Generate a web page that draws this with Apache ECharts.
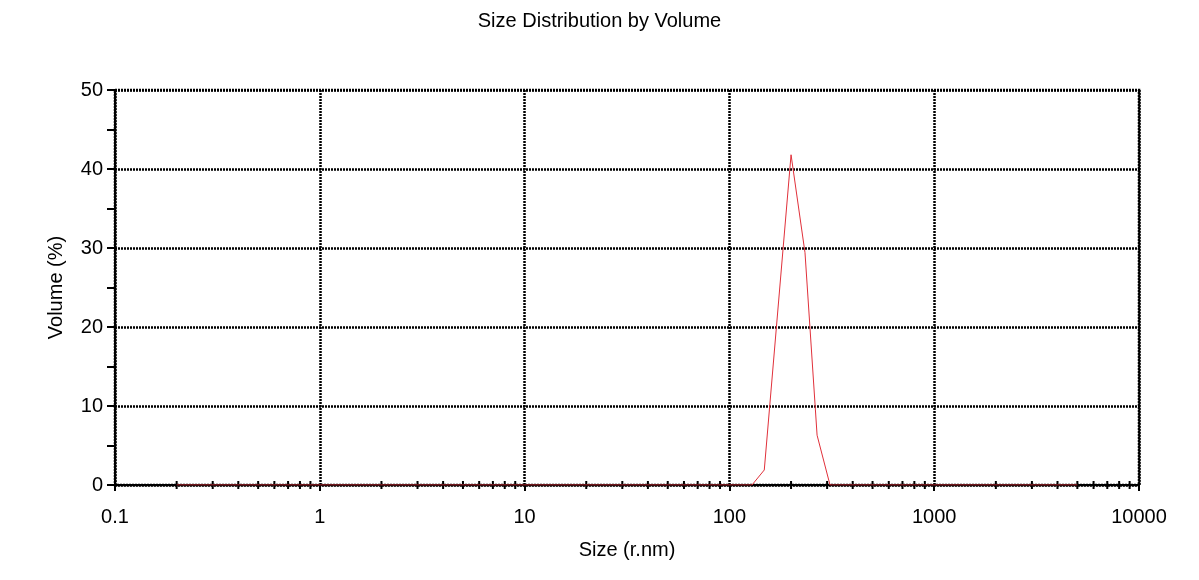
<!DOCTYPE html><html><head><meta charset="utf-8"><script src="https://cdn.jsdelivr.net/npm/echarts@6/dist/echarts.min.js"></script>
<style>body{margin:0}#c{width:1199px;height:580px}</style></head><body><div id="c"></div><script>
const sizes = [0.2, 128.9, 148, 200, 234, 268, 310, 5000];
const volume = [0, 0, 1.9, 41.8, 29.4, 6.3, 0, 0];
const xTickLabels = ['0.1','1','10','100','1000','10000'];
const minorX = [];
for (let d of [0.1,1,10,100,1000]) for (let k=2;k<=9;k++) minorX.push(+(d*k).toPrecision(3));
const F = 'Liberation Sans, Arial, sans-serif';
const chart = echarts.init(document.getElementById('c'));
chart.setOption({
  animation:false,
  title:{text:'Size Distribution by Volume',left:'center',top:6,textStyle:{fontFamily:F,fontSize:20,fontWeight:'normal',color:'#000'}},
  grid:{left:115,right:60,top:90,bottom:95},
  xAxis:{type:'log',min:0.1,max:10000,logBase:10,name:'Size (r.nm)',nameLocation:'middle',nameGap:55,
    nameTextStyle:{fontFamily:F,fontSize:20,color:'#000'},
    axisLine:{lineStyle:{color:'#000',width:2}},axisTick:{length:6,lineStyle:{color:'#000',width:2}},
    axisLabel:{fontFamily:F,fontSize:20,color:'#000',margin:22,formatter:v=>xTickLabels.includes(String(v))?String(v):''},
    splitLine:{show:true,lineStyle:{color:'#000',type:[2,1],width:2.5}}},
  yAxis:{type:'value',min:0,max:50,interval:10,name:'Volume (%)',nameLocation:'middle',nameGap:49,
    nameTextStyle:{fontFamily:F,fontSize:20,color:'#000'},
    axisLine:{show:true,lineStyle:{color:'#000',width:2}},axisTick:{length:8,lineStyle:{color:'#000',width:2}},
    minorTick:{show:true,splitNumber:2,length:8,lineStyle:{color:'#000',width:2}},
    axisLabel:{fontFamily:F,fontSize:20,color:'#000',margin:12},
    splitLine:{show:true,lineStyle:{color:'#000',type:[2,1],width:2.5}}},
  series:[
    {type:'custom',data:minorX.map(v=>[v,0]),silent:true,z:1,
     renderItem:(p,api)=>{const pt=api.coord([api.value(0),0]);return {type:'line',shape:{x1:pt[0],y1:pt[1]-4,x2:pt[0],y2:pt[1]+4},style:{stroke:'#000',lineWidth:2}};}},
    {type:'line',data:sizes.map((s,i)=>[s,volume[i]]),showSymbol:false,z:5,lineStyle:{color:'#e0303a',width:1}}
  ],
  graphic:[{type:'rect',shape:{x:115,y:90,width:1024,height:395},style:{fill:'none',stroke:'#000',lineWidth:2.5,lineDash:[2,1]},z:0}]
});
</script></body></html>
